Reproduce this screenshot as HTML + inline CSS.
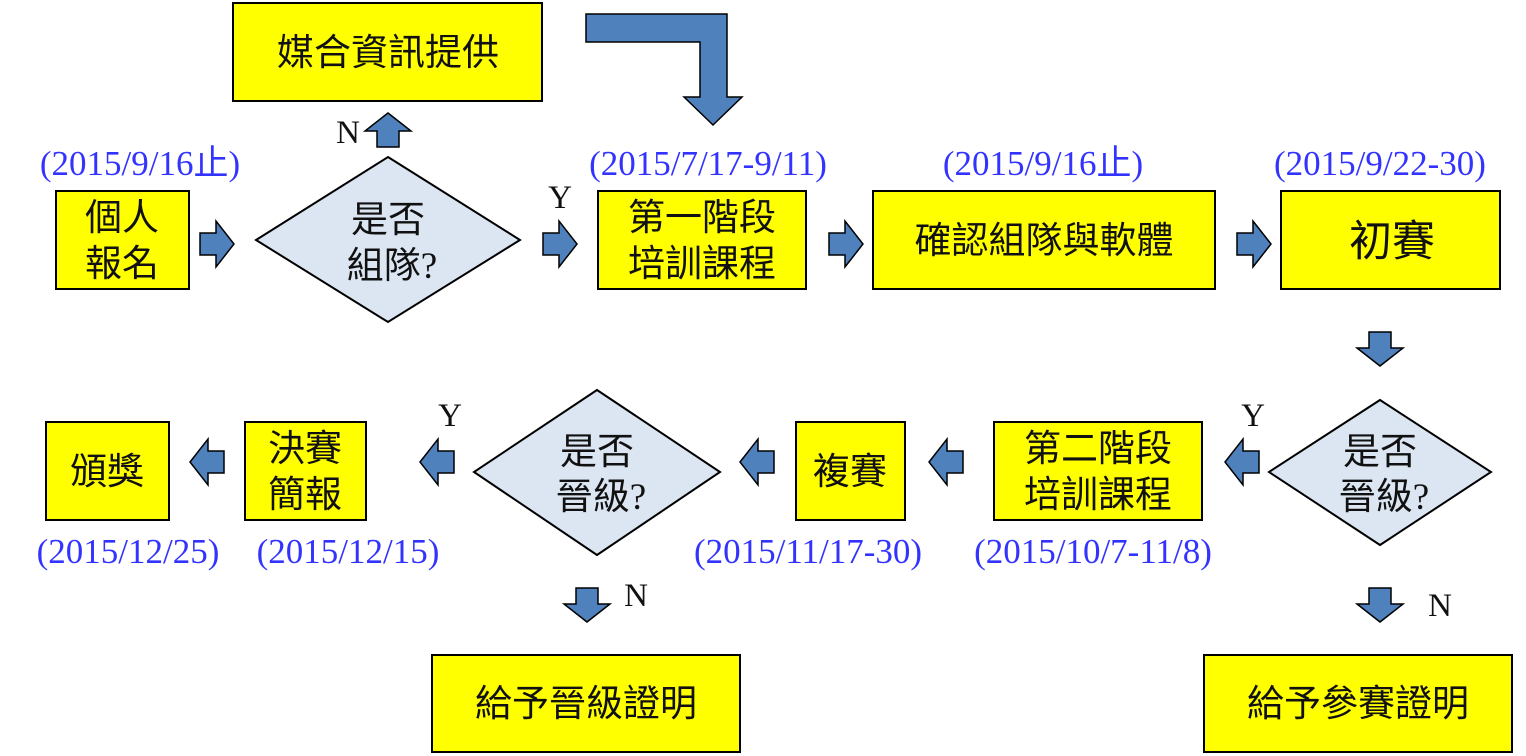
<!DOCTYPE html>
<html><head><meta charset="utf-8"><style>
html,body{margin:0;padding:0;background:#fff;}
svg{display:block;}
.b{fill:#FFFF00;stroke:#000;stroke-width:2;}
.d{fill:#DCE6F2;stroke:#000;stroke-width:2;}
.t{font-family:"Liberation Sans","Noto Sans CJK TC",sans-serif;font-size:37px;fill:#111;text-anchor:middle;}
.q{font-family:"Liberation Serif",serif;}
.dt{font-family:"Liberation Serif","Noto Sans CJK TC",serif;font-size:35px;fill:#3333FF;text-anchor:middle;}
.l{font-family:"Liberation Serif",serif;font-size:33px;fill:#111;text-anchor:middle;}
.a{fill:#4F81BD;stroke:#000;stroke-width:1.5;}
</style></head><body>
<svg width="1526" height="756" viewBox="0 0 1526 756" xmlns="http://www.w3.org/2000/svg">
<defs><polygon id="ar" points="-17,-11 -1,-11 -1,-23 17,0 -1,23 -1,11 -17,11"/></defs>
<rect class="b" x="233" y="3" width="309" height="98"/>
<text class="t" x="388" y="65">媒合資訊提供</text>
<rect class="b" x="56" y="191" width="133" height="98"/>
<text class="t" x="122" y="230">個人</text><text class="t" x="122" y="276">報名</text>
<rect class="b" x="598" y="191" width="208" height="98"/>
<text class="t" x="702" y="230">第一階段</text><text class="t" x="702" y="276">培訓課程</text>
<rect class="b" x="873" y="191" width="342" height="98"/>
<text class="t" x="1044" y="253">確認組隊與軟體</text>
<rect class="b" x="1281" y="191" width="219" height="98"/>
<text class="t" x="1392" y="256" style="font-size:43px">初賽</text>
<rect class="b" x="46" y="422" width="123" height="98"/>
<text class="t" x="107" y="484">頒獎</text>
<rect class="b" x="245" y="422" width="121" height="98"/>
<text class="t" x="305" y="461">決賽</text><text class="t" x="305" y="507">簡報</text>
<rect class="b" x="796" y="422" width="109" height="98"/>
<text class="t" x="850" y="484">複賽</text>
<rect class="b" x="994" y="422" width="208" height="98"/>
<text class="t" x="1098" y="461">第二階段</text><text class="t" x="1098" y="507">培訓課程</text>
<rect class="b" x="432" y="655" width="308" height="97"/>
<text class="t" x="586" y="716">給予晉級證明</text>
<rect class="b" x="1204" y="655" width="308" height="97"/>
<text class="t" x="1358" y="716">給予參賽證明</text>
<polygon class="d" points="388,157 520,240 388,322 256,240"/>
<text class="t" x="388" y="232">是否</text><text class="t" x="392" y="278">組隊<tspan class="q">?</tspan></text>
<polygon class="d" points="1380,400 1491,472 1380,545 1269,472"/>
<text class="t" x="1380" y="464">是否</text><text class="t" x="1384" y="509">晉級<tspan class="q">?</tspan></text>
<polygon class="d" points="597,390 720,472 597,555 474,472"/>
<text class="t" x="597" y="464">是否</text><text class="t" x="601" y="509">晉級<tspan class="q">?</tspan></text>
<text class="dt" x="140" y="175">(2015/9/16止)</text>
<text class="dt" x="708" y="175">(2015/7/17-9/11)</text>
<text class="dt" x="1043" y="175">(2015/9/16止)</text>
<text class="dt" x="1380" y="175">(2015/9/22-30)</text>
<text class="dt" x="128" y="563">(2015/12/25)</text>
<text class="dt" x="348" y="563">(2015/12/15)</text>
<text class="dt" x="808" y="563">(2015/11/17-30)</text>
<text class="dt" x="1093" y="563">(2015/10/7-11/8)</text>
<text class="l" x="348" y="143">N</text>
<text class="l" x="560" y="208">Y</text>
<text class="l" x="1253" y="426">Y</text>
<text class="l" x="1440" y="616">N</text>
<text class="l" x="450" y="426">Y</text>
<text class="l" x="636" y="606">N</text>
<polygon class="a" points="586,14 727,14 727,97 742,97 713,125 684,97 700,97 700,42 586,42"/>
<use href="#ar" class="a" transform="translate(217,244)"/>
<use href="#ar" class="a" transform="translate(560,244)"/>
<use href="#ar" class="a" transform="translate(846,244)"/>
<use href="#ar" class="a" transform="translate(1254,244)"/>
<use href="#ar" class="a" transform="translate(388,130) rotate(-90)"/>
<use href="#ar" class="a" transform="translate(1380,349) rotate(90)"/>
<use href="#ar" class="a" transform="translate(1380,605) rotate(90)"/>
<use href="#ar" class="a" transform="translate(587,605) rotate(90)"/>
<use href="#ar" class="a" transform="translate(1242,462) rotate(180)"/>
<use href="#ar" class="a" transform="translate(946,462) rotate(180)"/>
<use href="#ar" class="a" transform="translate(757,462) rotate(180)"/>
<use href="#ar" class="a" transform="translate(437,462) rotate(180)"/>
<use href="#ar" class="a" transform="translate(207,462) rotate(180)"/>
</svg>
</body></html>
